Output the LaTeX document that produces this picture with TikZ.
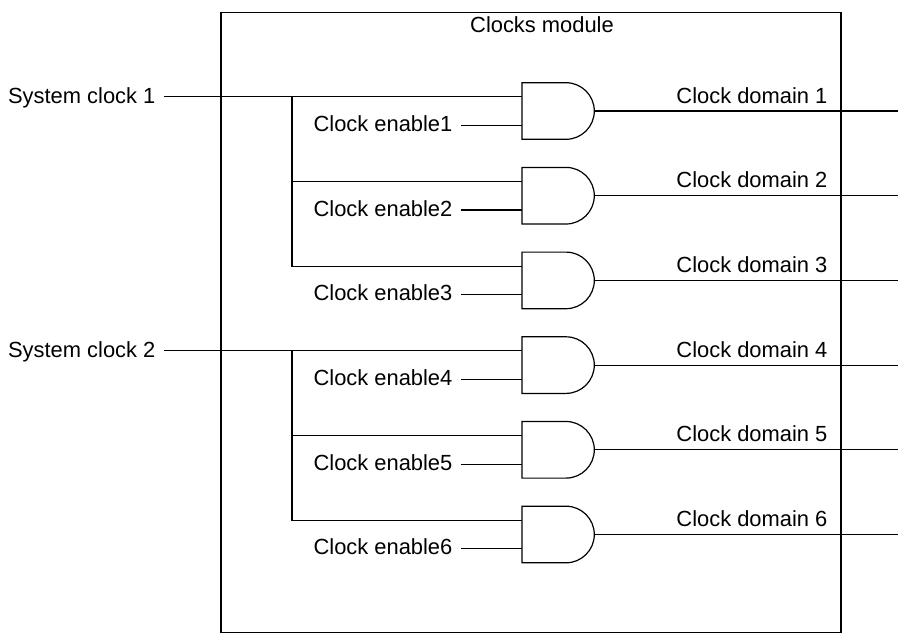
\documentclass[tikz,border=0pt]{standalone}
\usepackage{fontspec}
\setmainfont{Liberation Sans}
\usetikzlibrary{calc}

\begin{document}
\begin{tikzpicture}[x=0.5pt, y=0.5pt, line width=0.6pt,
  font=\fontsize{10.95}{13}\selectfont,
  lbl/.style={inner sep=0pt},
  inlbl/.style={anchor=base east, inner ysep=0pt, inner xsep=4pt}]
\def\gh{28.3}
\def\gi{14.3}
\useasboundingbox (0,0) rectangle (901,634);

%% module frame
\draw (221,1.5) rectangle (841,621.7);
\node[lbl, anchor=base] (title) at (542,601.7) {Clocks module};

%% gates, enables and outputs
\foreach \i in {1,...,6}{
  \pgfmathsetmacro{\cy}{523-84.7*(\i-1)}
  \coordinate (g\i-a) at (522,\cy+\gi);
  \coordinate (g\i-b) at (522,\cy-\gi);
  \coordinate (g\i-y) at (566+\gh,\cy);
  \coordinate (g\i-e) at (898,\cy);
  \draw (566,\cy+\gh) -- (522,\cy+\gh) -- (522,\cy-\gh) -- (566,\cy-\gh)
    arc[start angle=-90, end angle=90, radius=\gh] -- cycle;
  \node[inlbl] (en\i) at (461,\cy-\gi-6) {Clock enable\i};
  \draw (en\i.east |- g\i-b) -- (g\i-b);
  \node[lbl, anchor=base east] (dom\i) at (828,\cy+8) {Clock domain \i};
  \draw (g\i-y) -- (g\i-e);
}

%% system clocks
\node[inlbl] (sc1) at (164,523+\gi-6.5) {System clock 1};
\node[inlbl] (sc2) at (164,268.9+\gi-6.5) {System clock 2};
\coordinate (br1) at ($(g1-a)+(-230,0)$);
\coordinate (br2) at ($(g4-a)+(-230,0)$);
\draw (sc1.east |- g1-a) -- (g1-a);
\draw (br1) |- (g3-a);
\draw (br1 |- g2-a) -- (g2-a);
\draw (sc2.east |- g4-a) -- (g4-a);
\draw (br2) |- (g6-a);
\draw (br2 |- g5-a) -- (g5-a);
\end{tikzpicture}
\end{document}
